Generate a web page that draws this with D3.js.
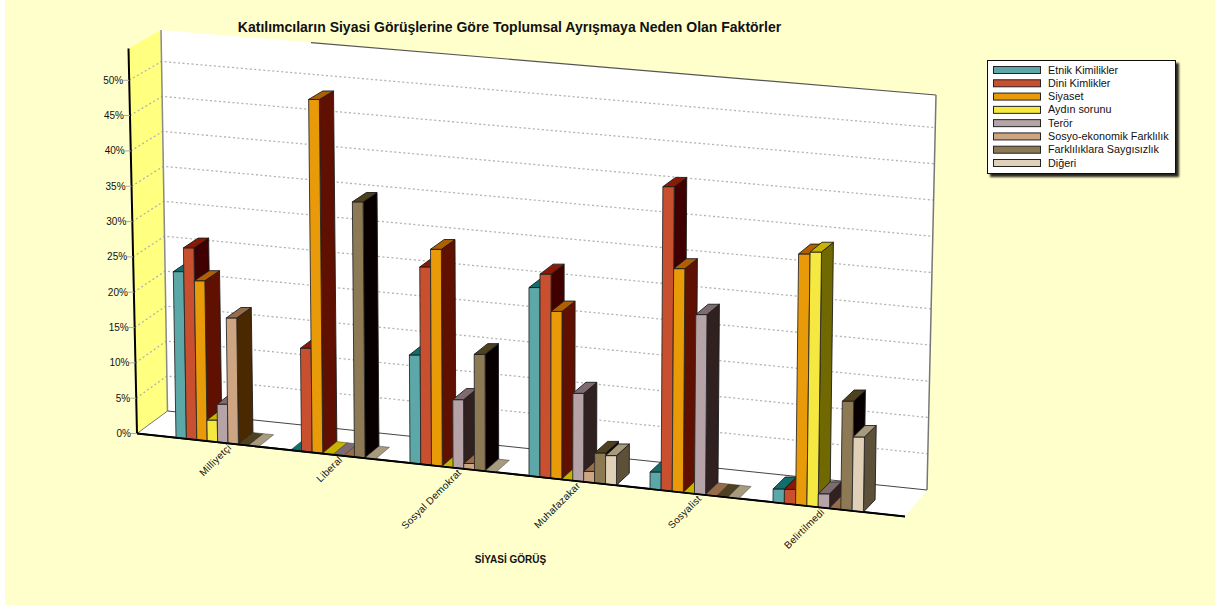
<!DOCTYPE html>
<html>
<head>
<meta charset="utf-8">
<script src="https://cdn.jsdelivr.net/npm/d3@7/dist/d3.min.js"></script>
<style>
html,body{margin:0;padding:0;background:#fff;}
svg{display:block;}
text{font-family:"Liberation Sans",Arial,sans-serif;fill:#111;}
</style>
</head>
<body>
<svg id="chart" width="1215" height="608"></svg>
<script>
const titleText = "Katılımcıların Siyasi Görüşlerine Göre Toplumsal Ayrışmaya Neden Olan Faktörler";
const xAxisTitle = "SİYASİ GÖRÜŞ";
const categories = ["Milliyetçi","Liberal","Sosyal Demokrat","Muhafazakar","Sosyalist","Belirtilmedi"];
const seriesNames = ["Etnik Kimilikler","Dini Kimlikler","Siyaset","Aydın sorunu","Terör","Sosyo-ekonomik Farklılık","Farklılıklara Saygısızlık","Diğeri"];
const etnik   = [23.4, 0,    15,   26,  2.3,  1.8];
const dini    = [26.9, 14.4, 27.4, 28,  41.6, 1.9];
const siyaset = [22.4, 49.4, 30,   23,  30.5, 34.1];
const aydin   = [2.9,  0,    0,    0,   0,    34.5];
const teror   = [5.3,  0,    9.4,  12,  24.5, 1.8];
const sosyo   = [17.6, 0,    0.7,  1.4, 0,    0];
const saygi   = [0,    35.6, 16,   4.1, 0,    14.7];
const diger   = [0,    0,    0,    3.9, 0,    10];
const seriesValues = [etnik,dini,siyaset,aydin,teror,sosyo,saygi,diger];
const yTicks = [0,5,10,15,20,25,30,35,40,45,50];
const frontColors = ["#5CA8A8","#C8502F","#E89A08","#F5E840","#B5A3A8","#CDA583","#8D7A55","#E0D0B8"];
const topColors   = ["#116E6E","#8A1A05","#B06000","#C8B400","#7E6B70","#966C4A","#4F4020","#A89A7C"];
const sideColors  = ["#003838","#400000","#601000","#706800","#30201F","#4A2800","#080000","#5C5038"];

const W=1215,H=608, yMax=54.5;
const svg=d3.select("#chart");
const line=d3.line();
const poly=(pts,fill,stroke,sw)=>svg.append("path").attr("d",line(pts)+"Z").attr("fill",fill)
  .attr("stroke",stroke||"none").attr("stroke-width",sw||0).attr("stroke-linejoin","round");

// background
svg.append("rect").attr("x",5).attr("y",0).attr("width",W-5).attr("height",605).attr("fill","#FFFFCC");

const defs=svg.append("defs");
const f=defs.append("filter").attr("id","sh").attr("x","-5%").attr("y","-5%").attr("width","115%").attr("height","115%");
f.append("feDropShadow").attr("dx",3).attr("dy",3).attr("stdDeviation",1.2).attr("flood-color","#000").attr("flood-opacity",0.85);

// scales of the projected box
const t=d3.scaleLinear().domain([0,yMax]);
const frontAxisX=t.copy().range([137,128.5]);
const frontAxisY=t.copy().range([433.5,48.5]);
const backLeftX=t.copy().range([167.5,161]);
const backLeftY=t.copy().range([411,30]);
const backRightX=t.copy().range([927,936]);
const backRightY=t.copy().range([490,95]);

// walls
poly([[137,433],[167.5,411],[927,490],[905,516.5]],"#fff");
poly([[backLeftX(0),backLeftY(0)],[backLeftX(yMax),backLeftY(yMax)],[backRightX(yMax),backRightY(yMax)],[backRightX(0),backRightY(0)]],"#fff");
poly([[frontAxisX(0),frontAxisY(0)],[frontAxisX(yMax),frontAxisY(yMax)],[backLeftX(yMax),backLeftY(yMax)],[backLeftX(0),backLeftY(0)]],"#FFFF80");

// grid
yTicks.filter(v=>v>0).forEach(v=>{
  const g=[[frontAxisX(v),frontAxisY(v)],[backLeftX(v),backLeftY(v)],[backRightX(v),backRightY(v)]];
  svg.append("path").attr("d",line(g)).attr("fill","none").attr("stroke","#b2b2b2").attr("stroke-width",1.3).attr("stroke-dasharray","2,2.5");
});
// wall edges
const edge=(a,b,c,w)=>svg.append("line").attr("x1",a[0]).attr("y1",a[1]).attr("x2",b[0]).attr("y2",b[1]).attr("stroke",c).attr("stroke-width",w);
edge([backLeftX(0),backLeftY(0)],[backLeftX(yMax),backLeftY(yMax)],"#8a8a8a",1.5);
edge([backLeftX(0),backLeftY(0)],[frontAxisX(0),frontAxisY(0)],"#777",1);
edge([backLeftX(0),backLeftY(0)],[backRightX(0),backRightY(0)],"#444",1);
edge([311,backLeftY(yMax)+(311-161)*(95-30)/(936-161)],[backRightX(yMax),backRightY(yMax)],"#555",1.2);
edge([backRightX(0),backRightY(0)],[backRightX(yMax),backRightY(yMax)],"#777",1.5);
edge([frontAxisX(0),frontAxisY(0)],[frontAxisX(yMax),frontAxisY(yMax)],"#000",2);
edge([frontAxisX(0),frontAxisY(0)],[905,516.5],"#000",2);

// y axis labels + tick marks
yTicks.forEach(v=>{
  edge([frontAxisX(v)-6,frontAxisY(v)],[frontAxisX(v),frontAxisY(v)],"#aaa",1);
  svg.append("text").attr("x",frontAxisX(v)-6).attr("y",frontAxisY(v)+3.5).attr("text-anchor","end")
    .attr("font-size",10).text(v+"%");
});

// bar geometry scales
const floorY=d3.scaleLinear().domain([137,905]).range([433,516.5]);
const heightK=d3.scaleLinear().domain([136,905]).range([7.06,7.40]);
const tilt=d3.scaleLinear().domain([136,905]).range([-0.018,0.017]);
const depthDx=d3.scaleLinear().domain([136,905]).range([15,11.5]);
const depthDy=d3.scaleLinear().domain([50,500]).range([-8,-12]);
const groupX=d3.scaleOrdinal().domain(categories).range([176,291,410,529,650,773]);
const barW=d3.scaleLinear().domain([176,773]).range([10.4,11.3]);
const barOffset=d3.scaleLinear().domain([0,seriesNames.length]);

// bars
categories.forEach((c,ci)=>{
  const x0=groupX(c), w=barW(x0);
  seriesNames.forEach((s,si)=>{
    const v=seriesValues[si][ci];
    const xl=x0+barOffset.range([0,8*w])(si), xr=xl+w;
    const h=v*heightK(xl);
    const bl=[xl,floorY(xl)], br=[xr,floorY(xr)];
    const tl=[xl+tilt(xl)*h,bl[1]-h];
    const tr=[xr+tilt(xr)*h,v>0?tl[1]:br[1]];
    const dx=depthDx(xr), dyT=depthDy(tr[1]), dyB=depthDy(br[1]);
    const tlb=[tl[0]+dx,tl[1]+dyT], trb=[tr[0]+dx,tr[1]+dyT], brb=[br[0]+dx,br[1]+dyB];
    if(v>0){
      poly([br,tr,trb,brb],sideColors[si],"#1c1c1c",0.9);
      poly([bl,br,tr,tl],frontColors[si],"#2a2a2a",0.9);
    }
    poly([tl,tr,trb,tlb],topColors[si],"#1c1c1c",v>0?0.9:0.4);
  });
});

// redraw floor front line above flat feet
edge([frontAxisX(0),frontAxisY(0)],[905,516.5],"#000",1.6);

// category labels under the bars
categories.forEach(c=>{
  const x0=groupX(c), lx=x0+52+(c===categories[0]?4:0), ly=floorY(lx)+5;
  svg.append("text").attr("transform",`translate(${lx},${ly}) rotate(-45)`)
    .attr("text-anchor","end").attr("font-size",10).attr("letter-spacing",0.25).text(c);
});

// title
svg.append("text").attr("x",509.5).attr("y",32).attr("text-anchor","middle").attr("font-size",14)
  .attr("font-weight","bold").text(titleText);
svg.append("text").attr("x",510.5).attr("y",563).attr("text-anchor","middle").attr("font-size",10)
  .attr("font-weight","bold").text(xAxisTitle);

// legend
svg.append("rect").attr("x",987.5).attr("y",60.5).attr("width",188).attr("height",113)
  .attr("fill","#fff").attr("stroke","#111").attr("stroke-width",1).attr("filter","url(#sh)");
const legendY=d3.scalePoint().domain(seriesNames).range([70,163]);
seriesNames.forEach((s,i)=>{
  svg.append("rect").attr("x",993.5).attr("y",legendY(s)-3.5).attr("width",47).attr("height",7)
    .attr("fill",frontColors[i]).attr("stroke","#222").attr("stroke-width",1);
  svg.append("text").attr("x",1048).attr("y",legendY(s)+3.5).attr("font-size",10.8).text(s);
});
</script>
</body>
</html>
